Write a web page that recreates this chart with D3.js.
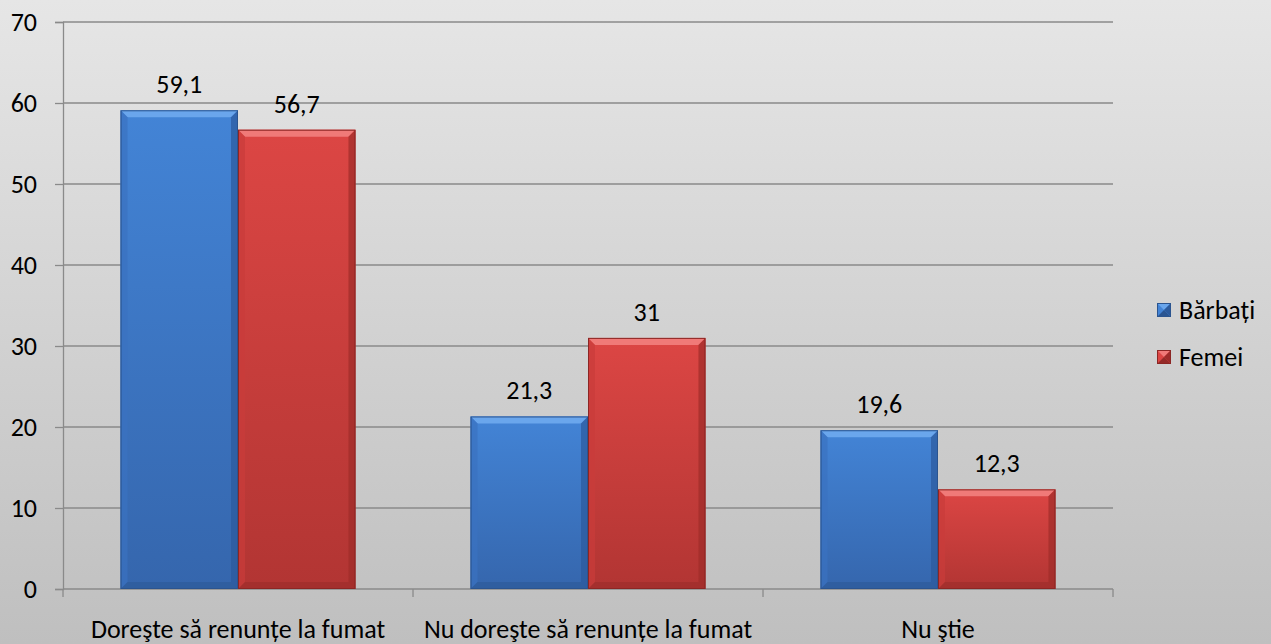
<!DOCTYPE html>
<html><head><meta charset="utf-8">
<script src="https://cdn.jsdelivr.net/npm/d3@7"></script>
<style>body{margin:0;overflow:hidden}svg{display:block}</style>
</head><body>
<script>
const categories = ["Doreşte să renunțe la fumat", "Nu doreşte să renunțe la fumat", "Nu ştie"];
const seriesNames = ["Bărbați", "Femei"];
const barbati = [59.1, 21.3, 19.6];
const femei = [56.7, 31, 12.3];
const labelsB = ["59,1", "21,3", "19,6"];
const labelsF = ["56,7", "31", "12,3"];
const yTicks = [0, 10, 20, 30, 40, 50, 60, 70];

const W = 1271, H = 644;
const FONT = "Carlito, Lato, 'Open Sans', sans-serif";
const FS = 26;
const svg = d3.select("body").append("svg").attr("width", W).attr("height", H);
const defs = svg.append("defs");
const bg = defs.append("linearGradient").attr("id","bg").attr("x1",0).attr("y1",0).attr("x2",0).attr("y2",1);
bg.append("stop").attr("offset","0%").attr("stop-color","#e6e6e6");
bg.append("stop").attr("offset","100%").attr("stop-color","#bfbfbf");
svg.append("rect").attr("width",W).attr("height",H).attr("fill","url(#bg)");

const x0 = 63, x1 = 1113, yB = 589, yT = 22;
const x = d3.scaleBand().domain(categories).range([x0, x1]).paddingInner(0).paddingOuter(0);
const y = d3.scaleLinear().domain([0, 70]).range([yB, yT]);
const inner = d3.scaleBand().domain(seriesNames).range([0, x.bandwidth()]).paddingOuter(0.49).paddingInner(0);

const gridCol = "#8a8a8a";
svg.append("g").selectAll("line").data(yTicks.filter(d=>d>0)).join("line")
  .attr("x1", x0).attr("x2", x1).attr("y1", d=>y(d)).attr("y2", d=>y(d))
  .attr("stroke", gridCol).attr("stroke-width", 1.3);

const yAxis = svg.append("g").attr("transform", `translate(${x0},0)`)
  .call(d3.axisLeft(y).tickValues(yTicks).tickSize(8).tickPadding(8).tickFormat(d3.format("d")));
yAxis.select(".domain").attr("stroke", gridCol).attr("stroke-width",1.3);
yAxis.selectAll(".tick line").attr("stroke", gridCol).attr("stroke-width",1.3);
yAxis.selectAll("text").attr("font-family", FONT).attr("font-size", FS).attr("fill","#000").attr("x",-26).attr("text-anchor","end");

const xAxis = svg.append("g").attr("transform", `translate(0,${yB})`);
xAxis.append("line").attr("x1",x0).attr("x2",x1).attr("stroke",gridCol).attr("stroke-width",1.3);
const bounds = categories.map(c=>x(c)).concat([x1]);
xAxis.selectAll("line.tk").data(bounds).join("line").attr("class","tk")
  .attr("x1",d=>d).attr("x2",d=>d).attr("y1",0).attr("y2",8).attr("stroke",gridCol).attr("stroke-width",1.3);
xAxis.selectAll("text").data(categories).join("text")
  .attr("x", d=>x(d)+x.bandwidth()/2).attr("y", 49)
  .attr("text-anchor","middle").attr("font-family",FONT).attr("font-size",FS).attr("fill","#000")
  .text(d=>d);

const pal = {
  "Bărbați": {top:"#6aa6ec", mainT:"#4384d6", mainB:"#3566ad", left:"#3a72c0", right:"#2c5a9c", bottom:"#2a5592", edge:"#2b548f"},
  "Femei": {top:"#f07a78", mainT:"#dc4644", mainB:"#b23533", left:"#c93c3a", right:"#9e2c2a", bottom:"#952a28", edge:"#8c2624"}
};
seriesNames.forEach(s=>{
  const p = pal[s];
  const g = defs.append("linearGradient").attr("id","g"+(s==="Femei"?"F":"B")).attr("x1",0).attr("y1",0).attr("x2",0).attr("y2",1);
  g.append("stop").attr("offset","0%").attr("stop-color",p.mainT);
  g.append("stop").attr("offset","100%").attr("stop-color",p.mainB);
});
const data = [];
categories.forEach((c,i)=>{
  data.push({c, s:"Bărbați", v:barbati[i], lab:labelsB[i]});
  data.push({c, s:"Femei", v:femei[i], lab:labelsF[i]});
});
const bev = 7;
const barsG = svg.append("g");
data.forEach(d=>{
  const bx = x(d.c) + inner(d.s), bw = inner.bandwidth();
  const by = y(d.v), bh = yB - by;
  const p = pal[d.s];
  const g = barsG.append("g");
  g.append("rect").attr("x",bx).attr("y",by).attr("width",bw).attr("height",bh).attr("fill",`url(#g${d.s==="Femei"?"F":"B"})`);
  const L=bx, R=bx+bw, T=by, B=yB;
  g.append("polygon").attr("points",`${L},${T} ${R},${T} ${R-bev},${T+bev} ${L+bev},${T+bev}`).attr("fill",p.top);
  g.append("polygon").attr("points",`${L},${T} ${L+bev},${T+bev} ${L+bev},${B-bev} ${L},${B}`).attr("fill",p.left).attr("opacity",0.7);
  g.append("polygon").attr("points",`${R},${T} ${R-bev},${T+bev} ${R-bev},${B-bev} ${R},${B}`).attr("fill",p.right).attr("opacity",0.7);
  g.append("polygon").attr("points",`${L},${B} ${L+bev},${B-bev} ${R-bev},${B-bev} ${R},${B}`).attr("fill",p.bottom).attr("opacity",0.5);
  g.append("rect").attr("x",bx+0.5).attr("y",by+0.5).attr("width",bw-1).attr("height",bh-1).attr("fill","none").attr("stroke",p.edge).attr("stroke-width",1);
  svg.append("text").attr("x",bx+bw/2).attr("y",by-17).attr("text-anchor","middle")
    .attr("font-family",FONT).attr("font-size",FS).attr("fill","#000").text(d.lab);
});

const leg = svg.append("g");
seriesNames.forEach((s,i)=>{
  const ly = 303 + i*47;
  const p = pal[s];
  const sz = 14, lx = 1157;
  leg.append("rect").attr("x",lx).attr("y",ly).attr("width",sz).attr("height",sz).attr("fill",p.mainT);
  leg.append("polygon").attr("points",`${lx},${ly} ${lx+sz},${ly} ${lx+sz/2},${ly+sz/2}`).attr("fill",p.top);
  leg.append("polygon").attr("points",`${lx},${ly+sz} ${lx+sz},${ly+sz} ${lx+sz/2},${ly+sz/2}`).attr("fill",p.bottom);
  leg.append("polygon").attr("points",`${lx+sz},${ly} ${lx+sz},${ly+sz} ${lx+sz/2},${ly+sz/2}`).attr("fill",p.right);
  leg.append("rect").attr("x",lx+0.5).attr("y",ly+0.5).attr("width",sz-1).attr("height",sz-1).attr("fill","none").attr("stroke",p.edge);
  leg.append("text").attr("x",1179).attr("y",ly+sz/2).attr("dy","0.35em").attr("font-family",FONT).attr("font-size",FS).attr("fill","#000").text(s);
});
</script>
</body></html>
